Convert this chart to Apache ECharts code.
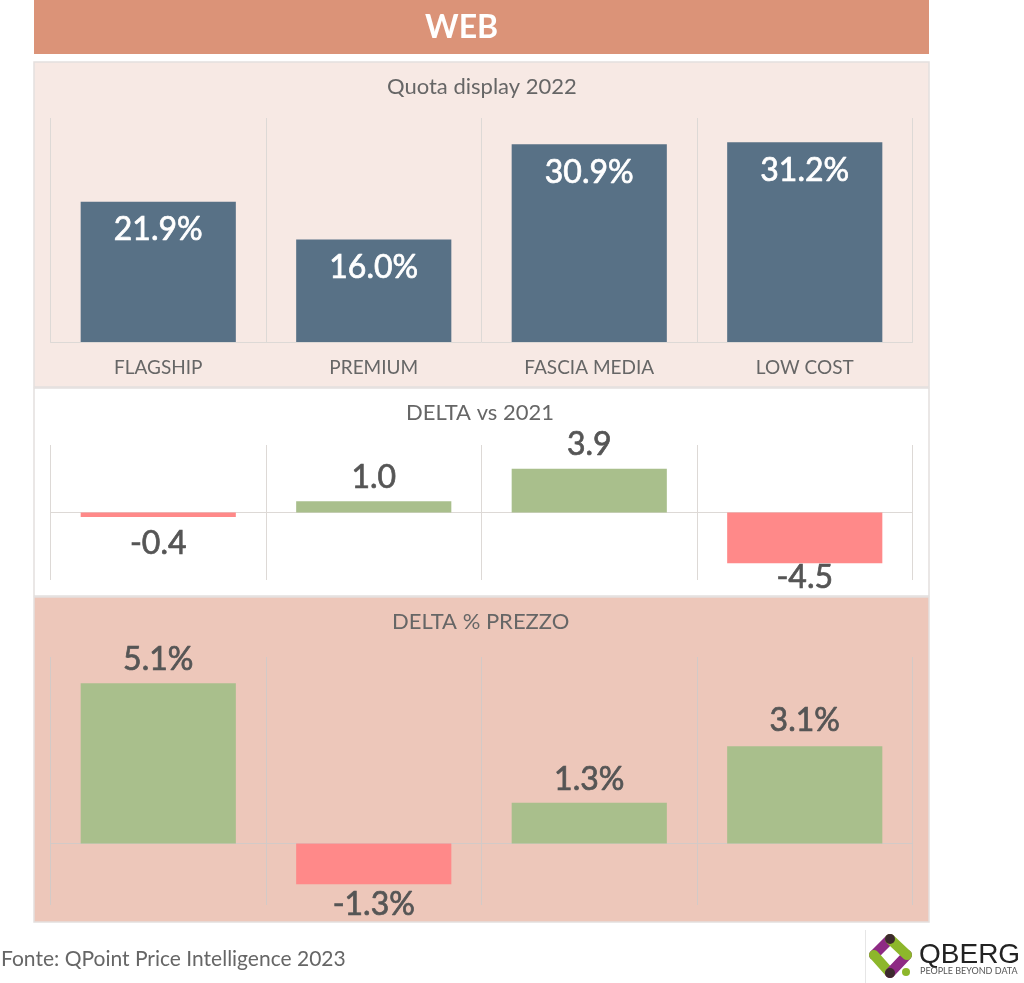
<!DOCTYPE html>
<html>
<head>
<meta charset="utf-8">
<title>WEB</title>
<style>
html, body { margin: 0; padding: 0; background: #fff; }
#chart { width: 1024px; height: 983px; }
</style>
<script src="https://cdn.jsdelivr.net/npm/echarts@6/dist/echarts.min.js"></script>
</head>
<body>
<div id="chart"></div>
<script>
var categories = ['FLAGSHIP', 'PREMIUM', 'FASCIA MEDIA', 'LOW COST'];
var quota = [21.9, 16.0, 30.9, 31.2];
var deltaVol = [-0.4, 1.0, 3.9, -4.5];
var deltaPrezzo = [5.1, -1.3, 1.3, 3.1];

var panelTitles = ['Quota display 2022', 'DELTA vs 2021', 'DELTA % PREZZO'];

var font = 'Lato';
var BLUE = '#587186', GREEN = '#A9BF8C', RED = '#FF8989', GREY = '#555555';

// label gap under/over each bar, they differ a bit in the original
var gapsVol = [11, 8, 8, -1];
var gapsPrezzo = [8, 4, 7, 9];

var myChart = echarts.init(document.getElementById('chart'), null, { renderer: 'canvas' });

function panel(y, h, fill) {
    return {
        type: 'rect', z: -10, silent: true,
        shape: { x: 34, y: y, width: 895, height: h },
        style: { fill: fill, stroke: '#E4E0DE', lineWidth: 1.5 }
    };
}

// green up, red down
function signedData(values, gaps, suffix) {
    return values.map(function(v, i) {
        return {
            value: v,
            itemStyle: { color: v < 0 ? RED : GREEN },
            label: {
                position: v < 0 ? 'bottom' : 'top',
                distance: gaps[i],
                formatter: v.toFixed(1) + suffix
            }
        };
    });
}

function xAxis(idx, showLabels, lineColor) {
    return {
        type: 'category', gridIndex: idx, data: categories,
        axisTick: { show: false },
        axisLine: { show: true, onZero: true, lineStyle: { color: lineColor, width: 1 } },
        splitLine: { show: true, interval: 0, lineStyle: { color: lineColor, width: 1 } },
        axisLabel: { show: showLabels, interval: 0, margin: 16, fontFamily: font, fontSize: 19, color: '#666666' }
    };
}

function yAxis(idx, min, max) {
    return { type: 'value', gridIndex: idx, min: min, max: max, show: false, splitLine: { show: false } };
}

// regular weight with a thin outline, the original sits between regular and bold
function barSeries(idx, data, label) {
    var color = label.color || GREY;
    return {
        type: 'bar', xAxisIndex: idx, yAxisIndex: idx, barWidth: '72%', data: data,
        label: Object.assign({ show: true, fontFamily: font, fontSize: 32, color: color, textBorderColor: color, textBorderWidth: 0.7 }, label)
    };
}

var titleStyle = { fontFamily: font, fontSize: 22, fontWeight: 'normal', color: '#666666' };

var option = {
    animation: false,
    backgroundColor: '#ffffff',
    title: [
        { text: 'WEB', left: 420, top: 7, textStyle: { fontFamily: font, fontSize: 32, fontWeight: 'bold', color: '#ffffff' } },
        { text: panelTitles[0], left: 382, top: 71, textStyle: titleStyle },
        { text: panelTitles[1], left: 401, top: 397, textStyle: titleStyle },
        { text: panelTitles[2], left: 387, top: 606, textStyle: titleStyle },
        { text: 'Fonte: QPoint Price Intelligence 2023', left: -4, top: 944, textStyle: { fontFamily: font, fontSize: 21, fontWeight: 'normal', color: '#666666' } }
    ],
    grid: [
        { left: 50.5, right: 111.5, top: 118, height: 224 },
        { left: 50.5, right: 111.5, top: 445, height: 135 },
        { left: 50.5, right: 111.5, top: 657, height: 248 }
    ],
    xAxis: [xAxis(0, true, '#DDD9D6'), xAxis(1, false, '#DDD9D6'), xAxis(2, false, '#D3CAC7')],
    yAxis: [yAxis(0, 0, 35), yAxis(1, -6, 6), yAxis(2, -1.96, 5.94)],
    series: [
        barSeries(0, quota.map(function(v) {
            return { value: v, itemStyle: { color: BLUE } };
        }), { position: 'insideTop', distance: 12, color: '#ffffff', formatter: function(p) { return p.value.toFixed(1) + '%'; } }),
        barSeries(1, signedData(deltaVol, gapsVol, ''), {}),
        barSeries(2, signedData(deltaPrezzo, gapsPrezzo, '%'), {})
    ],
    graphic: [
        { type: 'rect', z: -10, silent: true, shape: { x: 34, y: 0, width: 895, height: 54 }, style: { fill: '#DB9378' } },
        panel(62, 325, '#F7E9E4'),
        panel(388, 208, '#FFFFFF'),
        panel(597, 325, '#EDC7BA'),
        // logo
        { type: 'line', silent: true, shape: { x1: 865.5, y1: 930, x2: 865.5, y2: 983 }, style: { stroke: '#E6E6E6', lineWidth: 1 } },
        { type: 'line', silent: true, shape: { x1: 890, y1: 939, x2: 874, y2: 955 }, style: { stroke: '#8E2A84', lineWidth: 10, lineCap: 'round' } },
        { type: 'line', silent: true, shape: { x1: 874, y1: 955, x2: 890, y2: 973 }, style: { stroke: '#8DB72B', lineWidth: 10, lineCap: 'round' } },
        { type: 'line', silent: true, shape: { x1: 890, y1: 973, x2: 907, y2: 955 }, style: { stroke: '#8E2A84', lineWidth: 10, lineCap: 'round' } },
        { type: 'line', silent: true, shape: { x1: 907, y1: 955, x2: 890, y2: 939 }, style: { stroke: '#8DB72B', lineWidth: 10, lineCap: 'round' } },
        { type: 'circle', silent: true, shape: { cx: 890, cy: 939, r: 5 }, style: { fill: '#3D2A2E' } },
        { type: 'circle', silent: true, shape: { cx: 890, cy: 973, r: 5 }, style: { fill: '#3D2A2E' } },
        { type: 'circle', silent: true, shape: { cx: 906, cy: 972, r: 4 }, style: { fill: '#8DB72B' } },
        { type: 'text', silent: true, style: { x: 919, y: 941, text: 'QBERG', fill: '#222222', font: '28px "Liberation Sans"' } },
        { type: 'text', silent: true, style: { x: 920, y: 967, text: 'PEOPLE BEYOND DATA', fill: '#555555', font: '9px Lato' } }
    ]
};

myChart.setOption(option);
</script>
</body>
</html>
